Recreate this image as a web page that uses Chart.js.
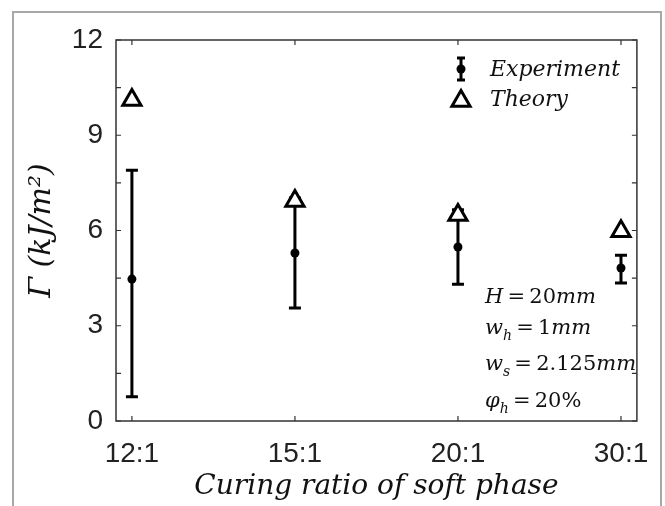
<!DOCTYPE html>
<html><head><meta charset="utf-8">
<script src="https://cdn.jsdelivr.net/npm/chart.js@4/dist/chart.umd.min.js"></script>
<style>html,body{margin:0;padding:0;background:#fff;}#wrap{width:665px;height:506px;position:relative;}</style>
</head><body><div id="wrap"><canvas id="c" width="665" height="506"></canvas></div>
<script>
const categories = ['12:1', '15:1', '20:1', '30:1'];
const expMean = [4.47, 5.29, 5.48, 4.82];
const expLow = [0.76, 3.56, 4.31, 4.35];
const expHigh = [7.90, 7.02, 6.65, 5.22];
const theory = [10.11, 6.93, 6.49, 5.98];
const yTicks = [0, 3, 6, 9, 12];
const yMinorStep = 1.5;
const legendLabels = ['Experiment', 'Theory'];
const xTitle = 'Curing ratio of soft phase';
const yTitle = 'Γ (kJ/m²)';
const paramLines = [
  [['H', 'i'], [' = ', 'n'], ['20', 'n'], ['mm', 'i']],
  [['w', 'i'], ['h', 's'], [' = ', 'n'], ['1', 'n'], ['mm', 'i']],
  [['w', 'i'], ['s', 's'], [' = ', 'n'], ['2.125', 'n'], ['mm', 'i']],
  [['φ', 'i'], ['h', 's'], [' = ', 'n'], ['20%', 'n']]
];

const SERIF = '"DejaVu Serif", "Liberation Serif", serif';
const SANS = '"Liberation Sans", Arial, sans-serif';

function triPath(ctx, x, y, r) {
  ctx.beginPath();
  for (let k = 0; k < 3; k++) {
    const a = -Math.PI / 2 + k * 2 * Math.PI / 3;
    const px = x + Math.cos(a) * r, py = y + Math.sin(a) * r;
    if (k === 0) ctx.moveTo(px, py); else ctx.lineTo(px, py);
  }
  ctx.closePath();
}

const decor = {
  id: 'decor',
  beforeDraw(chart) {
    const ctx = chart.ctx;
    ctx.save();
    ctx.fillStyle = '#fff';
    ctx.fillRect(0, 0, chart.width, chart.height);
    ctx.strokeStyle = '#a8a8a8';
    ctx.lineWidth = 2;
    ctx.beginPath();
    ctx.moveTo(13, 520); ctx.lineTo(13, 12); ctx.lineTo(661, 12); ctx.lineTo(661, 520);
    ctx.stroke();
    ctx.restore();
  },
  beforeDatasetsDraw(chart) {
    const ctx = chart.ctx, xs = chart.scales.x, ys = chart.scales.y;
    ctx.save();
    ctx.strokeStyle = '#000';
    ctx.lineWidth = 3;
    for (let i = 0; i < categories.length; i++) {
      const px = xs.getPixelForValue(i);
      const pl = ys.getPixelForValue(expLow[i]);
      const ph = ys.getPixelForValue(expHigh[i]);
      ctx.beginPath();
      ctx.moveTo(px, pl); ctx.lineTo(px, ph);
      ctx.moveTo(px - 6, pl); ctx.lineTo(px + 6, pl);
      ctx.moveTo(px - 6, ph); ctx.lineTo(px + 6, ph);
      ctx.stroke();
    }
    ctx.restore();
  },
  afterDraw(chart) {
    const ctx = chart.ctx, xs = chart.scales.x, ys = chart.scales.y;
    const a = chart.chartArea;
    ctx.save();
    ctx.strokeStyle = '#333';
    ctx.lineWidth = 1.5;
    ctx.strokeRect(a.left, a.top, a.right - a.left, a.bottom - a.top);
    ctx.lineWidth = 1.2;
    ctx.beginPath();
    for (let v = ys.min; v <= ys.max + 1e-9; v += yMinorStep) {
      const py = ys.getPixelForValue(v);
      ctx.moveTo(a.left, py); ctx.lineTo(a.left + 5, py);
      ctx.moveTo(a.right, py); ctx.lineTo(a.right - 5, py);
    }
    for (let i = 0; i < categories.length; i++) {
      const px = xs.getPixelForValue(i);
      ctx.moveTo(px, a.bottom); ctx.lineTo(px, a.bottom - 5);
      ctx.moveTo(px, a.top); ctx.lineTo(px, a.top + 5);
    }
    ctx.stroke();

    // legend
    const lx = 461;
    ctx.strokeStyle = '#000';
    ctx.fillStyle = '#000';
    ctx.lineWidth = 3;
    ctx.beginPath();
    ctx.moveTo(lx, 58); ctx.lineTo(lx, 80);
    ctx.moveTo(lx - 4, 58); ctx.lineTo(lx + 4, 58);
    ctx.moveTo(lx - 4, 80); ctx.lineTo(lx + 4, 80);
    ctx.stroke();
    ctx.beginPath(); ctx.arc(lx, 69, 4.5, 0, Math.PI * 2); ctx.fill();
    triPath(ctx, lx, 101, 10.5);
    ctx.fillStyle = '#fff'; ctx.fill(); ctx.stroke();
    ctx.fillStyle = '#111';
    ctx.font = 'italic 22px ' + SERIF;
    ctx.textAlign = 'left';
    ctx.textBaseline = 'alphabetic';
    ctx.fillText(legendLabels[0], 490, 76);
    ctx.fillText(legendLabels[1], 490, 106);

    // parameter annotations
    const baselines = [303, 334, 370, 407];
    const fs = 21;
    paramLines.forEach((line, li) => {
      let x = 485;
      const by = baselines[li];
      line.forEach(([t, st]) => {
        let f, y = by;
        if (st === 'i') f = 'italic ' + fs + 'px ' + SERIF;
        else if (st === 's') { f = 'italic ' + Math.round(fs * 0.65) + 'px ' + SERIF; y = by + 6; }
        else f = fs + 'px ' + SERIF;
        ctx.font = f;
        const txt = t === ' = ' ? '\u2009=\u2009' : t;
        ctx.fillText(txt, x, y);
        x += ctx.measureText(txt).width;
      });
    });
    ctx.restore();
  }
};

const chart = new Chart(document.getElementById('c'), {
  type: 'scatter',
  data: {
    datasets: [
      {
        label: legendLabels[0],
        data: categories.map((c, i) => ({ x: i, y: expMean[i] })),
        pointStyle: 'circle',
        pointRadius: 4.5,
        pointHoverRadius: 4.5,
        backgroundColor: '#000',
        borderColor: '#000',
        borderWidth: 0,
        showLine: false
      },
      {
        label: legendLabels[1],
        data: categories.map((c, i) => ({ x: i, y: theory[i] })),
        pointStyle: 'triangle',
        pointRadius: 10.5,
        pointHoverRadius: 10.5,
        backgroundColor: '#fff',
        borderColor: '#000',
        borderWidth: 3,
        showLine: false
      }
    ]
  },
  options: {
    responsive: false,
    animation: false,
    devicePixelRatio: 1,
    layout: { padding: { top: 40, right: 25, left: 0, bottom: 0 } },
    plugins: { legend: { display: false }, tooltip: { enabled: false } },
    scales: {
      x: {
        type: 'linear',
        min: -0.0976,
        max: 3.0976,
        afterBuildTicks: s => { s.ticks = categories.map((c, i) => ({ value: i })); },
        afterFit: s => { s.height = 85; },
        ticks: {
          callback: v => categories[v] ?? '',
          font: { family: SANS, size: 28 },
          color: '#222',
          padding: 16,
          maxRotation: 0,
          autoSkip: false
        },
        grid: { display: false, drawTicks: false },
        border: { display: false },
        title: {
          display: true,
          text: xTitle,
          font: { family: SERIF, style: 'italic', size: 28 },
          color: '#111',
          padding: { top: 0, bottom: 2 }
        }
      },
      y: {
        min: 0,
        max: 12,
        afterBuildTicks: s => { s.ticks = yTicks.map(v => ({ value: v })); },
        afterFit: s => { s.width = 116; },
        ticks: {
          font: { family: SANS, size: 28 },
          color: '#222',
          padding: 13
        },
        grid: { display: false, drawTicks: false },
        border: { display: false },
        title: {
          display: true,
          text: yTitle,
          font: { family: SERIF, style: 'italic', size: 30 },
          color: '#111',
          padding: { top: 24, bottom: 0 }
        }
      }
    }
  },
  plugins: [decor]
});
</script>
</body></html>
